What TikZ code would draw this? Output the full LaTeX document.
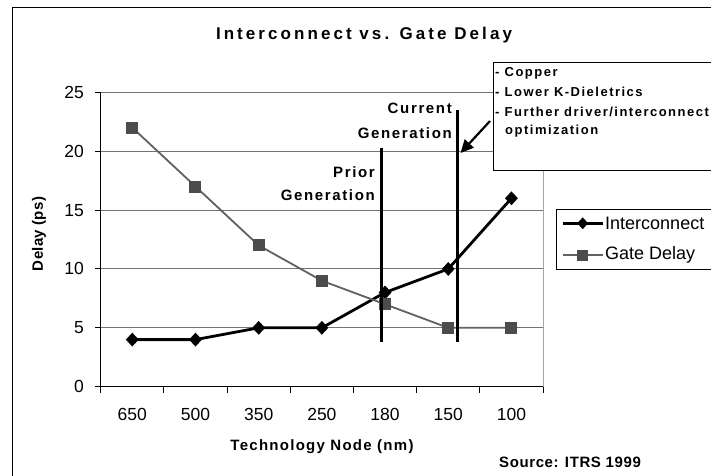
\documentclass[tikz,border=0pt]{standalone}
\usepackage{fontspec}
\setmainfont{Liberation Sans}
\usetikzlibrary{shapes.geometric,arrows.meta}

% letter-spaced bold text
\newcommand\wideb[2]{\bfseries\addfontfeature{LetterSpace=#1}#2}

\tikzset{
  grid line/.style={draw=black!55, line width=0.9pt},
  axis line/.style={draw=black, line width=1pt},
  tick label/.style={font=\fontsize{17.5}{20}\selectfont, inner sep=0pt},
  ic line/.style={draw=black, line width=2.8pt, line join=round},
  gd line/.style={draw=black!62, line width=1.8pt, line join=round},
  ic mark/.style={diamond, fill=black, inner sep=0pt, minimum width=13pt, minimum height=14pt},
  gd mark/.style={rectangle, fill=black!70, inner sep=0pt, minimum size=12pt},
  gen line/.style={draw=black, line width=3.4pt},
  gen label/.style={font=\fontsize{15}{18}\selectfont\wideb{11}{}, anchor=east, inner sep=0pt},
  note text/.style={font=\fontsize{13}{15}\selectfont\wideb{11.5}{}, anchor=west, inner sep=0pt},
  legend text/.style={font=\fontsize{18}{20}\selectfont, anchor=west, inner sep=0pt},
}

\begin{document}
\begin{tikzpicture}[x=1pt, y=-1pt]
\useasboundingbox (0,0) rectangle (711,475);
\clip (0,0) rectangle (711,475);
\fill[white] (0,0) rectangle (711,475);

% chart frame
\draw[line width=1.5pt] (12.5,7.5) rectangle (730,490);

% title
\node[font=\fontsize{17}{20}\selectfont\wideb{18}{}, inner sep=0pt] (title) at (364,35) {Interconnect vs. Gate Delay};

% plot area: gridlines, right border, axes
\foreach \v in {5,10,15,20,25}
  \draw[grid line] (100.7,{386.7-11.776*\v}) -- (543,{386.7-11.776*\v});
\draw[draw=black!35, line width=1pt] (543,92.3) -- (543,386.7);
\draw[axis line] (100.7,92.3) -- (100.7,386.7) -- (543,386.7);
\foreach \v in {0,5,...,25} {
  \draw[axis line] (95.2,{386.7-11.776*\v}) -- (100.7,{386.7-11.776*\v});
  \node[tick label, anchor=east] (yl\v) at (84,{386.7-11.776*\v}) {\v};
}
\foreach \k in {0,...,7}
  \draw[axis line] ({100.7+63.19*\k},386.7) -- ({100.7+63.19*\k},392.5);
\foreach \lab [count=\i] in {650,500,350,250,180,150,100}
  \node[tick label] (xl\i) at ({100.7+63.19*(\i-0.5)},414) {\lab};

% axis titles
\node[font=\fontsize{15}{18}\selectfont\wideb{8.5}{}, inner sep=0pt] (xtitle) at (322,446.5) {Technology Node (nm)};
\node[font=\fontsize{15}{18}\selectfont\wideb{2}{}, inner sep=0pt, rotate=90] (ytitle) at (39,234) {Delay (ps)};
\node[font=\fontsize{15}{18}\selectfont\wideb{4}{}, inner sep=0pt, anchor=west] (source) at (499,462.5) {Source: ITRS 1999};

% data points
\foreach \v [count=\i] in {4,4,5,5,8,10,16}
  \coordinate (ic\i) at ({100.7+63.19*(\i-0.5)},{386.7-11.776*\v});
\foreach \v [count=\i] in {22,17,12,9,7,5,5}
  \coordinate (gd\i) at ({100.7+63.19*(\i-0.5)},{386.7-11.776*\v});

% Interconnect series
\draw[ic line] (ic1) -- (ic2) -- (ic3) -- (ic4) -- (ic5) -- (ic6) -- (ic7);
\foreach \i in {1,...,7}
  \node[ic mark] (icm\i) at (ic\i) {};

% Gate Delay series
\draw[gd line] (gd1) -- (gd2) -- (gd3) -- (gd4) -- (gd5) -- (gd6) -- (gd7);
\foreach \i in {1,...,7}
  \node[gd mark] (gdm\i) at (gd\i) {};

% generation markers
\coordinate (priorTop) at (381.7,147.7);
\coordinate (priorBot) at (381.7,341.7);
\coordinate (curTop) at (457.3,110);
\coordinate (curBot) at (457.3,341.7);
\draw[gen line] (priorTop) -- (priorBot);
\draw[gen line] (curTop) -- (curBot);
\node[gen label] (cur1) at (452,108) {Current};
\node[gen label] (cur2) at (452,132.7) {Generation};
\node[gen label] (pri1) at (375,171.7) {Prior};
\node[gen label] (pri2) at (375,195) {Generation};

% note box
\draw[fill=white, line width=1pt] (493.5,62) rectangle (740,170);
\node[note text] (n1) at (495,73.3) {- Copper};
\node[note text] (n2) at (495,92.3) {- Lower K-Dieletrics};
\node[note text] (n3) at (495,111.7) {- Further driver/interconnect};
\node[note text] (n4) at (505,130.7) {optimization};

% arrow to the current generation
\coordinate (arrS) at (490,121);
\coordinate (arrE) at (460.5,153);
\draw[line width=2.2pt, -{Triangle[length=13pt,width=12pt]}] (arrS) -- (arrE);

% legend
\draw[fill=white, line width=1pt] (556,209.3) rectangle (716,269.3);
\coordinate (lg1a) at (562.7,223.3);
\coordinate (lg1b) at (602.7,223.3);
\coordinate (lg2a) at (562.7,255);
\coordinate (lg2b) at (602.7,255);
\draw[ic line] (lg1a) -- (lg1b);
\node[ic mark, minimum width=11pt, minimum height=12pt] (lgm1) at (582.7,223.3) {};
\draw[gd line] (lg2a) -- (lg2b);
\node[gd mark, minimum size=11pt] (lgm2) at (582.7,255) {};
\node[legend text] (lt1) at (605,223.3) {Interconnect};
\node[legend text] (lt2) at (605,255) {Gate Delay};

\end{tikzpicture}
\end{document}
